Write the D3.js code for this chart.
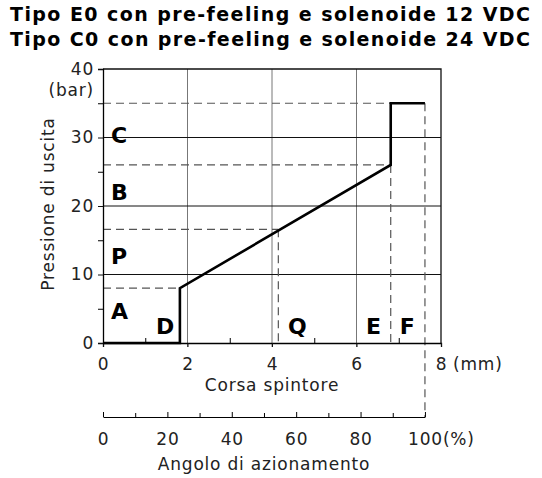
<!DOCTYPE html>
<meta charset="utf-8">
<html>
<head>
	<script src="https://cdn.jsdelivr.net/npm/d3@7"></script>
	<style>
		body { margin: 0; background: #fff; }
		text { font-family: "DejaVu Sans", Verdana, sans-serif; fill: #222; }
		.tick text, .lbl { font-size: 17px; letter-spacing: 0.8px; }
		.domain { stroke: #000; }
	</style>
</head>
<body>
	<svg id="chart" width="542" height="478"></svg>
	<script>
		var titles = ["Tipo E0 con pre-feeling e solenoide 12 VDC", "Tipo C0 con pre-feeling e solenoide 24 VDC"];

		// curve: stroke (mm) vs pressure (bar)
		var curveX = [0, 1.82, 1.82, 6.81, 6.81, 7.62];
		var curveY = [0, 0, 8, 26, 35, 35];

		// reference levels and their end points
		var levelNames = ["A", "P", "B", "C"];
		var levelY = [8, 16.6, 26, 35];
		var levelEndX = [1.82, 4.15, 6.81, 7.62];

		var stopNames = ["D", "Q", "E", "F"];
		var stopLabelX = [1.47, 4.6, 6.4, 7.2];

		var xTicks = [0, 2, 4, 6, 8];
		var xMinor = [1, 3, 5, 7];
		var yTicks = [0, 10, 20, 30, 40];
		var yMinor = [5, 15, 25, 35];
		var angleTicks = [0, 20, 40, 60, 80, 100];
		var angleMinor = [10, 30, 50, 70, 90];

		var svg = d3.select("#chart");
		var plotLeft = 103, plotRight = 441, plotTop = 69, plotBottom = 343;
		var angleAxisY = 417;

		var x = d3.scaleLinear().domain([0, 8]).range([plotLeft, plotRight]);
		var y = d3.scaleLinear().domain([0, 40]).range([plotBottom, plotTop]);
		var angle = d3.scaleLinear().domain([0, 100]).range([x(0), x(7.62)]);

		// titles
		svg.selectAll(".title").data(titles).enter()
			.append("text")
			.attr("class", "title")
			.attr("x", 10)
			.attr("y", function(d, i) { return 21 + i * 25; })
			.attr("textLength", 520)
			.attr("lengthAdjust", "spacing")
			.style("font-size", "19px")
			.style("font-weight", "bold")
			.style("fill", "#000")
			.text(function(d) { return d; });

		// grid
		svg.selectAll(".vgrid").data([2, 4, 6]).enter()
			.append("line")
			.attr("x1", x).attr("x2", x)
			.attr("y1", y(0) + 4).attr("y2", y(40))
			.attr("stroke", "#777").attr("stroke-width", 1);

		svg.selectAll(".hgrid").data([10, 20, 30]).enter()
			.append("line")
			.attr("x1", x(0)).attr("x2", x(8))
			.attr("y1", y).attr("y2", y)
			.attr("stroke", "#111").attr("stroke-width", 1);

		// frame top / right
		svg.append("path")
			.attr("d", "M" + x(0) + "," + y(40) + "H" + x(8) + "V" + y(0))
			.attr("fill", "none").attr("stroke", "#111").attr("stroke-width", 1.3);

		// dashed reference lines
		var dash = "8,5";
		svg.selectAll(".hdash").data(levelY).enter()
			.append("line")
			.attr("x1", x(0))
			.attr("x2", function(d, i) { return x(levelEndX[i]); })
			.attr("y1", y).attr("y2", y)
			.attr("stroke", "#555").attr("stroke-width", 1.2)
			.attr("stroke-dasharray", dash);

		svg.selectAll(".vdash").data(levelEndX.slice(1)).enter()
			.append("line")
			.attr("x1", x).attr("x2", x)
			.attr("y1", function(d, i) { return y(levelY[i + 1]); })
			.attr("y2", function(d, i) { return i == 2 ? angleAxisY : y(0); })
			.attr("stroke", "#555").attr("stroke-width", 1.2)
			.attr("stroke-dasharray", dash);

		// axes
		var yAxis = svg.append("g")
			.attr("transform", "translate(" + plotLeft + ",0)")
			.call(d3.axisLeft(y).tickValues(yTicks).tickSize(5).tickPadding(4));
		svg.append("g")
			.attr("transform", "translate(" + plotLeft + ",0)")
			.call(d3.axisLeft(y).tickValues(yMinor).tickSize(5).tickFormat(""))
			.select(".domain").remove();

		var xAxis = svg.append("g")
			.attr("transform", "translate(0," + plotBottom + ")")
			.call(d3.axisBottom(x).tickValues(xTicks).tickSize(4).tickPadding(11));
		svg.append("g")
			.attr("transform", "translate(0," + plotBottom + ")")
			.call(d3.axisBottom(x).tickValues(xMinor).tickSize(-5).tickFormat(""))
			.select(".domain").remove();

		[yAxis, xAxis].forEach(function(a) {
			a.selectAll("line").attr("stroke", "#111");
			a.select(".domain").attr("stroke-width", 1.3);
		});

		var angleAxis = svg.append("g")
			.attr("transform", "translate(0," + angleAxisY + ")")
			.call(d3.axisBottom(angle).tickValues(angleTicks).tickSize(-5).tickSizeOuter(0).tickPadding(16));
		angleAxis.selectAll(".tick text").attr("dy", "0.71em");
		svg.append("g")
			.attr("transform", "translate(0," + angleAxisY + ")")
			.call(d3.axisBottom(angle).tickValues(angleMinor).tickSize(-4).tickFormat(""))
			.select(".domain").remove();

		// unit labels
		svg.append("text").attr("class", "lbl").attr("x", x(8) + 12).attr("y", plotBottom + 27)
			.text("(mm)");
		svg.append("text").attr("class", "lbl").attr("x", angle(100) + 18).attr("y", angleAxisY + 28)
			.text("(%)");
		svg.append("text").attr("class", "lbl").attr("x", plotLeft - 9).attr("y", 96)
			.attr("text-anchor", "end")
			.text("(bar)");

		// axis titles
		svg.append("text").attr("class", "lbl").attr("x", (x(0) + x(8)) / 2).attr("y", 391)
			.attr("text-anchor", "middle")
			.text("Corsa spintore");
		svg.append("text").attr("class", "lbl").attr("x", (angle(0) + angle(100)) / 2).attr("y", 470)
			.attr("text-anchor", "middle")
			.text("Angolo di azionamento");
		svg.append("text").attr("class", "lbl")
			.attr("transform", "translate(54," + 204 + ") rotate(-90)")
			.attr("text-anchor", "middle")
			.text("Pressione di uscita");

		// curve
		var line = d3.line()
			.x(function(d, i) { return x(curveX[i]); })
			.y(function(d) { return y(d); });
		svg.append("path")
			.datum(curveY)
			.attr("d", line)
			.attr("fill", "none")
			.attr("stroke", "#000")
			.attr("stroke-width", 2.6)
			.attr("stroke-linejoin", "miter");

		// region letters
		var levelLabelY = [4.6, 12.7, 22, 30.4];
		svg.selectAll(".lvl").data(levelNames).enter()
			.append("text")
			.attr("x", x(0) + 8)
			.attr("y", function(d, i) { return y(levelLabelY[i]); })
			.attr("dy", "0.36em")
			.style("font-size", "22px").style("font-weight", "bold").style("fill", "#000")
			.text(function(d) { return d; });

		svg.selectAll(".stop").data(stopNames).enter()
			.append("text")
			.attr("x", function(d, i) { return x(stopLabelX[i]); })
			.attr("y", y(1.3))
			.attr("text-anchor", "middle")
			.style("font-size", "22px").style("font-weight", "bold").style("fill", "#000")
			.text(function(d) { return d; });
	</script>
</body>
</html>
